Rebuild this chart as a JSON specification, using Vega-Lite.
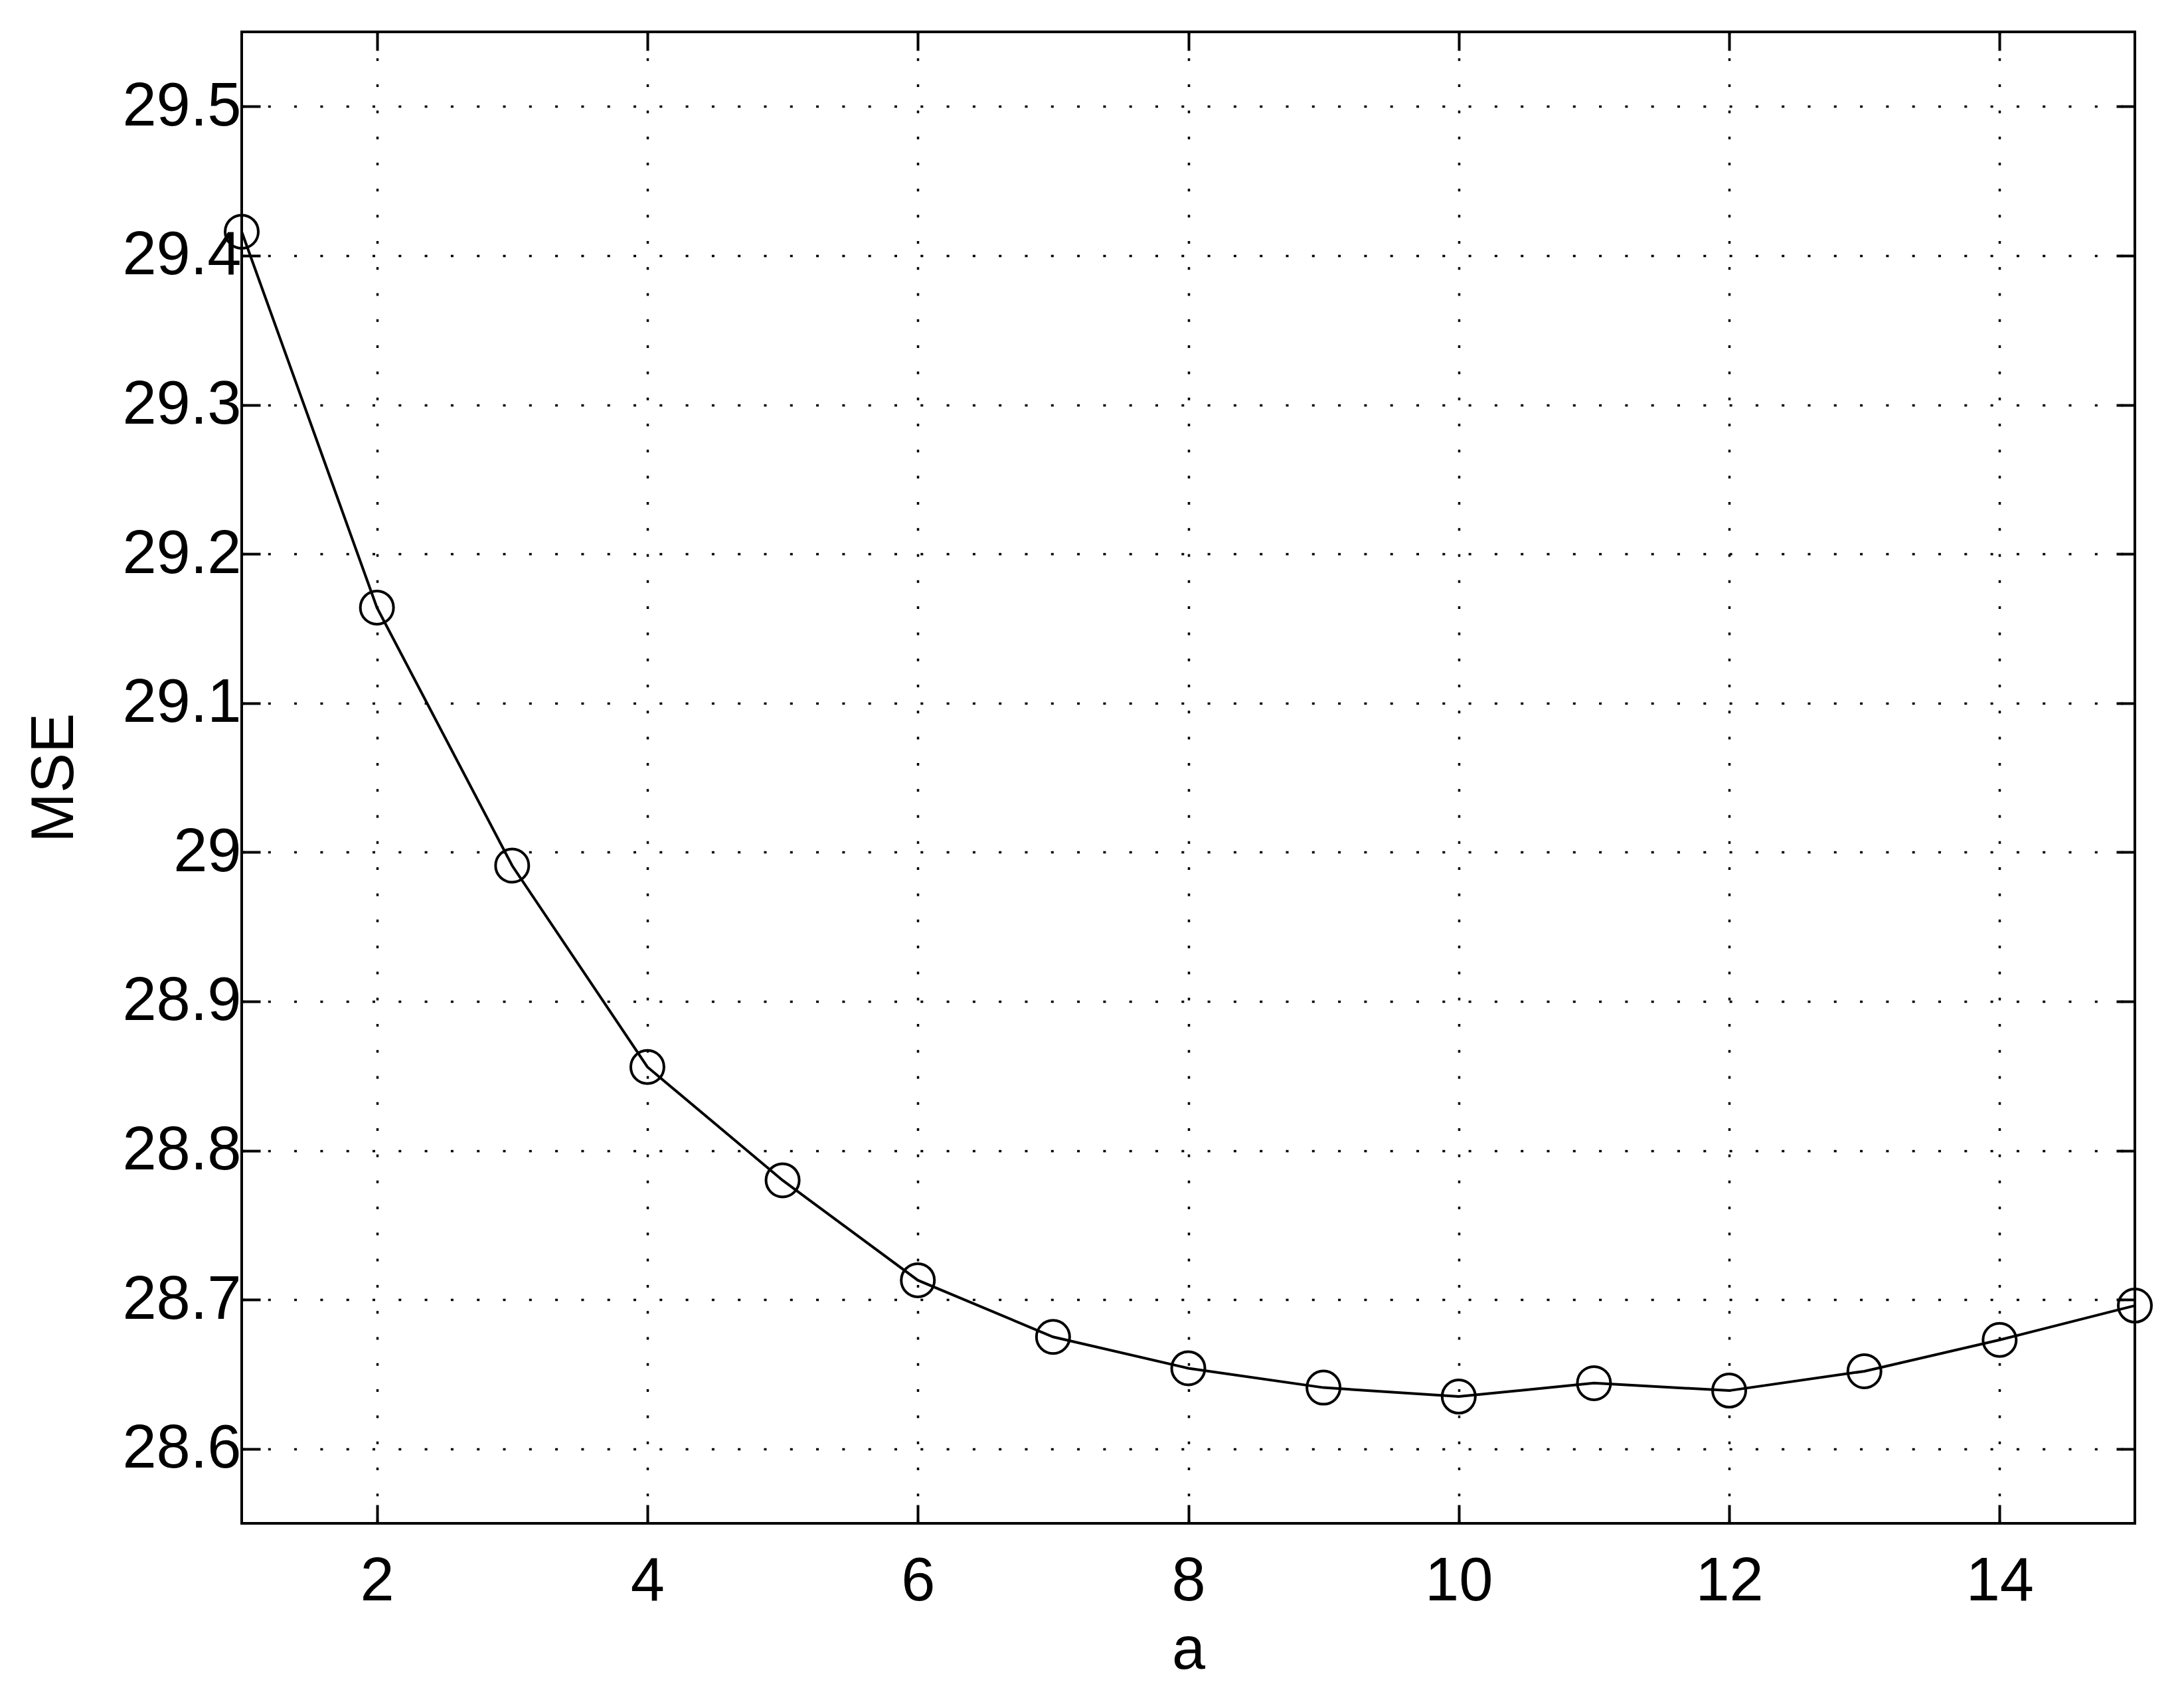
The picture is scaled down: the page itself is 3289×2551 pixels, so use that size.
{
  "$schema": "https://vega.github.io/schema/vega-lite/v6.json",
  "autosize": {"type": "none"},
  "width": 2851,
  "height": 2246,
  "padding": {"left": 364, "top": 48, "right": 74, "bottom": 257},
  "background": "white",
  "config": {
    "view": {"stroke": "black", "strokeWidth": 4},
    "font": "Liberation Sans",
    "axis": {
      "labelFont": "Liberation Sans",
      "titleFont": "Liberation Sans",
      "labelFontSize": 92,
      "titleFontSize": 90,
      "labelColor": "black",
      "titleColor": "black",
      "titleFontWeight": "normal",
      "tickColor": "black",
      "tickWidth": 4,
      "tickSize": -28,
      "domain": false,
      "gridColor": "black",
      "gridOpacity": 1,
      "gridWidth": 3.5,
      "gridDash": [4, 35.3]
    }
  },
  "data": {
    "values": [
      {"a": 1, "MSE": 29.416},
      {"a": 2, "MSE": 29.164},
      {"a": 3, "MSE": 28.991},
      {"a": 4, "MSE": 28.856},
      {"a": 5, "MSE": 28.780},
      {"a": 6, "MSE": 28.713},
      {"a": 7, "MSE": 28.675},
      {"a": 8, "MSE": 28.654},
      {"a": 9, "MSE": 28.641},
      {"a": 10, "MSE": 28.635},
      {"a": 11, "MSE": 28.644},
      {"a": 12, "MSE": 28.639},
      {"a": 13, "MSE": 28.652},
      {"a": 14, "MSE": 28.673},
      {"a": 15, "MSE": 28.696}
    ]
  },
  "layer": [
    {
      "mark": {"type": "line", "color": "black", "strokeWidth": 4},
      "encoding": {
        "x": {
          "field": "a", "type": "quantitative",
          "scale": {"domain": [1, 15], "nice": false, "zero": false},
          "axis": {
            "orient": "bottom", "title": "a",
            "values": [2, 4, 6, 8, 10, 12, 14],
            "grid": true, "labelPadding": 70, "titlePadding": 14
          }
        },
        "y": {
          "field": "MSE", "type": "quantitative",
          "scale": {"domain": [28.55, 29.55], "nice": false, "zero": false},
          "axis": {
            "orient": "left", "title": "MSE",
            "values": [28.6, 28.7, 28.8, 28.9, 29.0, 29.1, 29.2, 29.3, 29.4, 29.5],
            "format": "~g",
            "grid": true, "labelPadding": 29, "titlePadding": 55
          }
        }
      }
    },
    {
      "mark": {"type": "point", "shape": "circle", "filled": false, "color": "black", "strokeWidth": 4, "size": 2500, "opacity": 1},
      "encoding": {
        "x": {
          "field": "a", "type": "quantitative",
          "axis": {
            "orient": "top", "title": null, "labels": false,
            "values": [2, 4, 6, 8, 10, 12, 14], "grid": false
          }
        },
        "y": {
          "field": "MSE", "type": "quantitative",
          "axis": {
            "orient": "right", "title": null, "labels": false,
            "values": [28.6, 28.7, 28.8, 28.9, 29.0, 29.1, 29.2, 29.3, 29.4, 29.5],
            "grid": false
          }
        }
      }
    }
  ],
  "resolve": {"axis": {"x": "independent", "y": "independent"}}
}
